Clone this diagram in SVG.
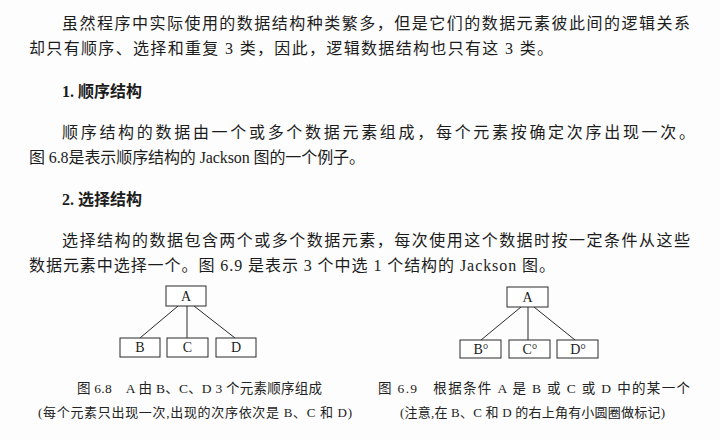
<svg xmlns="http://www.w3.org/2000/svg" width="720" height="440" viewBox="0 0 720 440">
<style>
.body{font-family:"Liberation Serif","Noto Sans CJK SC",serif;font-size:16px;fill:#1c1c1c}
.head{font-family:"Liberation Serif","Noto Sans CJK SC",sans-serif;font-size:16px;font-weight:bold;fill:#1c1c1c}
.cap{font-family:"Liberation Serif","Noto Sans CJK SC",serif;font-size:13.5px;fill:#222}
.cap2{font-family:"Liberation Serif","Noto Sans CJK SC",serif;font-size:13px;fill:#222}
.box{fill:#fff;stroke:#2a2a2a;stroke-width:1}
.lbl{font-family:"Liberation Serif",serif;font-size:14px;fill:#1c1c1c;text-anchor:middle}
.edge{stroke:#2a2a2a;stroke-width:1;fill:none}
</style>
<rect width="720" height="440" fill="#fdfdfd"/>
<g id="text">
<text class="body" x="62" y="29" textLength="628" lengthAdjust="spacing">虽然程序中实际使用的数据结构种类繁多，但是它们的数据元素彼此间的逻辑关系</text>
<text class="body" x="29" y="54" textLength="524" lengthAdjust="spacing">却只有顺序、选择和重复 3 类，因此，逻辑数据结构也只有这 3 类。</text>
<text class="head" x="62" y="97">1. 顺序结构</text>
<text class="body" x="62" y="138" textLength="633" lengthAdjust="spacing">顺序结构的数据由一个或多个数据元素组成，每个元素按确定次序出现一次。</text>
<text class="body" x="29" y="163" textLength="336" lengthAdjust="spacing">图 6.8是表示顺序结构的 Jackson 图的一个例子。</text>
<text class="head" x="62" y="205">2. 选择结构</text>
<text class="body" x="62" y="246" textLength="628" lengthAdjust="spacing">选择结构的数据包含两个或多个数据元素，每次使用这个数据时按一定条件从这些</text>
<text class="body" x="29" y="271" textLength="526" lengthAdjust="spacing">数据元素中选择一个。图 6.9 是表示 3 个中选 1 个结构的 Jackson 图。</text>
</g>
<g id="connectors">
<line class="edge" x1="178" y1="306" x2="140" y2="338"/>
<line class="edge" x1="187" y1="306" x2="187" y2="338"/>
<line class="edge" x1="194" y1="306" x2="235" y2="338"/>
<line class="edge" x1="521" y1="307" x2="481" y2="340"/>
<line class="edge" x1="528" y1="307" x2="528" y2="340"/>
<line class="edge" x1="534" y1="307" x2="575" y2="340"/>
</g>
<g id="fig68-A"><rect class="box" x="166" y="286" width="40" height="20"/><text class="lbl" x="186" y="301">A</text></g>
<g id="fig68-B"><rect class="box" x="120" y="338" width="40" height="19"/><text class="lbl" x="140" y="352">B</text></g>
<g id="fig68-C"><rect class="box" x="167" y="338" width="41" height="19"/><text class="lbl" x="187.5" y="352">C</text></g>
<g id="fig68-D"><rect class="box" x="216" y="338" width="40" height="19"/><text class="lbl" x="236" y="352">D</text></g>
<g id="fig69-A"><rect class="box" x="507" y="287" width="41" height="20"/><text class="lbl" x="527.5" y="302">A</text></g>
<g id="fig69-B"><rect class="box" x="460" y="340" width="41" height="18"/><text class="lbl" x="481" y="354">B°</text></g>
<g id="fig69-C"><rect class="box" x="509" y="340" width="41" height="18"/><text class="lbl" x="530" y="354">C°</text></g>
<g id="fig69-D"><rect class="box" x="557" y="340" width="41" height="18"/><text class="lbl" x="578" y="354">D°</text></g>
<g id="captions">
<text class="cap" x="77" y="393" textLength="245" lengthAdjust="spacing">图 6.8　A 由 B、C、D 3 个元素顺序组成</text>
<text class="cap2" x="38" y="417" textLength="314" lengthAdjust="spacing">(每个元素只出现一次,出现的次序依次是 B、C 和 D)</text>
<text class="cap" x="378" y="393" textLength="312" lengthAdjust="spacing">图 6.9　根据条件 A 是 B 或 C 或 D 中的某一个</text>
<text class="cap2" x="400" y="417" textLength="265" lengthAdjust="spacing">(注意,在 B、C 和 D 的右上角有小圆圈做标记)</text>
</g>
</svg>
